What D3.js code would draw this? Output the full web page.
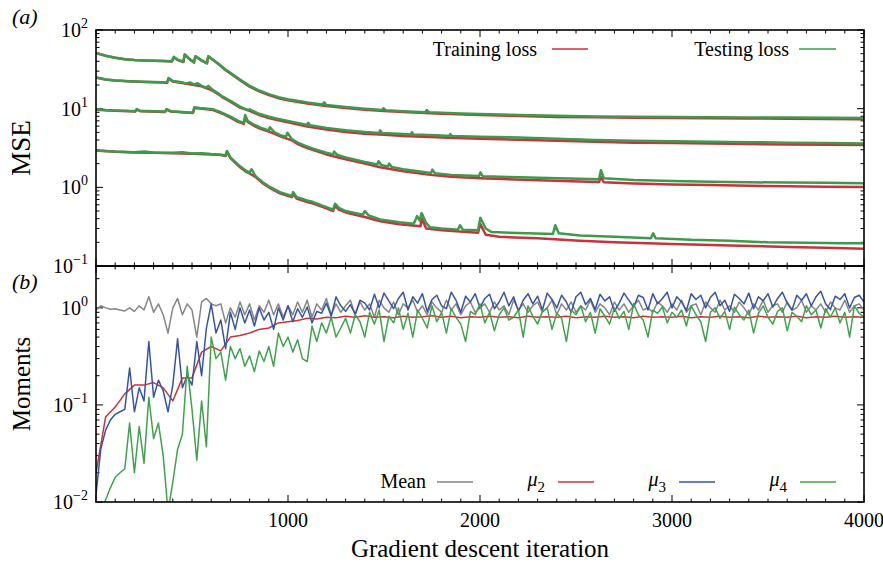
<!DOCTYPE html>
<html><head><meta charset="utf-8">
<script src="https://cdn.jsdelivr.net/npm/d3@7"></script>
<style>
body{margin:0;background:#fff;}
text{font-family:"Liberation Serif","Times New Roman",serif;fill:#000;}
</style></head><body>
<svg id="chart" width="883" height="564"></svg>
<script>
// ---- panel (a): loss curves, [iteration, MSE] ----
var test1 = [[0,51],[50,47],[100,44.5],[150,42.5],[200,41.5],[250,41],[300,40.6],[350,40.3],[395,40],[405,45.5],[425,42],[455,39.5],[462,49],[485,43.5],[510,39],[518,46.5],[545,42],[578,38],[585,46.5],[610,42],[640,37],[670,32],[700,28.5],[750,23.5],[800,19.5],[850,17],[900,15.3],[950,14],[1000,13.2],[1100,12],[1180,11.3],[1188,12],[1200,11.1],[1300,10.5],[1400,10],[1490,9.6],[1497,10.1],[1510,9.55],[1600,9.3],[1715,9.0],[1722,9.6],[1735,9.0],[1800,8.85],[1900,8.7],[2000,8.55],[2200,8.3],[2400,8.1],[2600,7.98],[2800,7.9],[3000,7.85],[3200,7.8],[3400,7.75],[3600,7.7],[3800,7.65],[4000,7.6]];
var train1 = [[0,51],[50,47],[100,44.5],[150,42.5],[200,41.5],[250,41],[300,40.6],[350,40.3],[395,39.8],[405,45],[425,41.5],[455,39.2],[462,48.5],[485,43],[510,38.5],[518,46],[545,41.5],[578,37.5],[585,46],[610,41.5],[640,36.5],[670,31.5],[700,28],[750,23],[800,19],[850,16.6],[900,14.9],[950,13.6],[1000,12.8],[1100,11.6],[1200,10.8],[1300,10.2],[1400,9.7],[1500,9.35],[1600,9.05],[1800,8.6],[2000,8.3],[2200,8.05],[2400,7.85],[2600,7.75],[2800,7.65],[3000,7.6],[3200,7.55],[3400,7.5],[3600,7.45],[3800,7.4],[4000,7.35]];

var test2 = [[0,25],[50,23.5],[100,22.8],[150,22.4],[200,22.2],[250,22],[300,21.8],[350,21.6],[370,21.4],[378,24.6],[400,22.5],[430,22],[450,21.5],[470,20.8],[490,21.6],[510,20.3],[530,21],[550,19.5],[575,18.5],[585,19.5],[610,17.2],[640,15.5],[660,14.2],[700,12.6],[750,10.6],[790,9.6],[800,9.8],[850,8.6],[900,7.9],[950,7.4],[1000,7.0],[1050,6.6],[1100,6.2],[1105,6.6],[1115,6.15],[1200,5.7],[1300,5.3],[1400,5.05],[1475,4.9],[1480,5.3],[1490,4.9],[1600,4.75],[1640,4.7],[1645,5.0],[1655,4.68],[1700,4.65],[1800,4.55],[1840,4.5],[1845,4.75],[1855,4.48],[1900,4.45],[2000,4.4],[2200,4.3],[2400,4.15],[2600,4.0],[2800,3.9],[3000,3.85],[3200,3.8],[3400,3.75],[3600,3.7],[3800,3.65],[4000,3.6]];
var train2 = [[0,25],[50,23.5],[100,22.8],[150,22.4],[200,22.1],[250,21.9],[300,21.7],[350,21.5],[370,21.2],[378,24],[400,22.2],[450,21.2],[510,20],[550,19.2],[575,18.2],[610,16.8],[640,15.1],[660,13.9],[700,12.3],[750,10.3],[800,9.4],[850,8.3],[900,7.6],[950,7.1],[1000,6.7],[1100,5.95],[1200,5.45],[1300,5.05],[1400,4.8],[1500,4.65],[1600,4.5],[1800,4.3],[2000,4.15],[2200,4.02],[2400,3.9],[2600,3.8],[2800,3.7],[3000,3.65],[3200,3.6],[3400,3.55],[3600,3.5],[3800,3.47],[4000,3.45]];

var test3 = [[0,9.8],[50,9.6],[100,9.5],[150,9.4],[205,9.3],[212,9.9],[230,9.4],[300,9.3],[360,9.2],[367,9.9],[390,9.3],[450,9.1],[505,8.9],[512,10.4],[540,10.2],[580,10.0],[610,9.8],[640,9.2],[670,8.6],[700,7.9],[740,7.0],[770,6.6],[777,8.3],[790,7.0],[820,6.3],[860,5.7],[900,5.3],[906,5.8],[930,5.0],[960,4.6],[990,4.4],[997,4.95],[1020,4.1],[1050,3.7],[1100,3.3],[1130,3.1],[1200,2.75],[1235,2.62],[1240,2.85],[1255,2.6],[1300,2.4],[1400,2.1],[1465,1.95],[1472,2.15],[1485,1.92],[1520,1.84],[1527,2.0],[1540,1.82],[1600,1.7],[1745,1.52],[1752,1.68],[1765,1.51],[1850,1.44],[1995,1.39],[2002,1.55],[2015,1.38],[2150,1.35],[2260,1.33],[2400,1.3],[2520,1.29],[2620,1.27],[2630,1.65],[2645,1.3],[2800,1.24],[3000,1.2],[3200,1.18],[3400,1.16],[3600,1.15],[3800,1.14],[4000,1.13]];
var train3 = [[0,9.7],[100,9.4],[205,9.2],[212,9.7],[230,9.3],[360,9.1],[367,9.7],[390,9.2],[505,8.8],[512,10.2],[580,9.8],[610,9.6],[640,9.0],[670,8.4],[700,7.7],[740,6.8],[770,6.4],[777,7.9],[790,6.8],[820,6.1],[860,5.5],[900,5.1],[930,4.8],[960,4.45],[1020,3.95],[1050,3.55],[1100,3.15],[1200,2.62],[1300,2.28],[1400,2.0],[1480,1.8],[1600,1.6],[1740,1.44],[1850,1.36],[2000,1.3],[2260,1.24],[2520,1.19],[2620,1.17],[2630,1.35],[2645,1.16],[2800,1.12],[3000,1.09],[3200,1.07],[3400,1.05],[3600,1.03],[3800,1.02],[4000,1.01]];

var test4 = [[0,2.95],[100,2.85],[200,2.8],[250,2.85],[300,2.78],[400,2.75],[450,2.8],[500,2.7],[550,2.72],[600,2.65],[650,2.6],[675,2.55],[682,2.9],[700,2.4],[750,1.85],[785,1.6],[800,1.55],[810,1.7],[830,1.4],[870,1.15],[900,1.03],[958,0.87],[1020,0.78],[1027,0.87],[1045,0.75],[1100,0.68],[1131,0.65],[1200,0.56],[1235,0.52],[1245,0.62],[1265,0.55],[1300,0.5],[1390,0.45],[1400,0.5],[1420,0.44],[1480,0.39],[1580,0.36],[1655,0.345],[1672,0.43],[1685,0.38],[1696,0.47],[1720,0.35],[1740,0.31],[1800,0.3],[1885,0.29],[1896,0.33],[1910,0.29],[1990,0.285],[2002,0.41],[2030,0.3],[2060,0.27],[2200,0.262],[2380,0.255],[2392,0.33],[2410,0.26],[2520,0.245],[2700,0.235],[2890,0.225],[2902,0.26],[2915,0.225],[3100,0.215],[3300,0.21],[3500,0.2],[3700,0.198],[3900,0.195],[4000,0.195]];
var train4 = [[0,2.93],[100,2.83],[200,2.78],[300,2.75],[400,2.72],[500,2.67],[600,2.62],[650,2.57],[675,2.5],[682,2.8],[700,2.35],[750,1.8],[785,1.56],[800,1.5],[830,1.36],[870,1.12],[900,1.0],[958,0.84],[1020,0.75],[1027,0.82],[1045,0.72],[1100,0.65],[1131,0.62],[1200,0.54],[1235,0.5],[1245,0.58],[1265,0.52],[1300,0.48],[1400,0.42],[1480,0.37],[1580,0.34],[1690,0.32],[1696,0.4],[1720,0.3],[1800,0.285],[1990,0.265],[2002,0.34],[2030,0.25],[2100,0.235],[2300,0.225],[2520,0.21],[2700,0.2],[3000,0.19],[3300,0.182],[3600,0.175],[3800,0.17],[4000,0.166]];

var trainSeries = [train1, train2, train3, train4];
var testSeries = [test1, test2, test3, test4];

// ---- panel (b): moments, sampled every momentStep iterations ----
var momentStep = 25;
var meanVals = [
0.95,1.05,1.0,0.97,0.98,0.95,0.93,1.0,0.92,1.05,
0.95,1.3,0.9,1.1,0.85,0.55,1.0,1.25,0.85,1.1,
0.95,0.5,1.15,1.25,1.1,1.05,1.1,0.7,1.0,0.8,
1.15,0.85,1.1,0.75,1.05,0.9,1.2,0.85,1.1,0.8,
1.05,
0.85,1.15,0.9,1.2,0.8,1.1,0.95,1.25,0.85,1.1,
0.9,1.05,1.2,0.85,1.15,0.95,1.1,0.8,1.2,1.0,
0.9,1.15,0.85,1.1,1.0,1.2,0.9,1.05,0.85,1.15,
1.0,0.9,1.2,0.95,1.1,0.85,1.05,1.15,0.9,1.0,
1.1,0.9,1.15,0.95,1.05,0.85,1.2,0.95,1.1,0.9,
1.05,1.15,0.9,1.0,1.2,0.85,1.1,0.95,1.15,0.9,
1.05,0.95,1.2,0.9,1.1,1.0,0.85,1.15,0.95,1.1,
0.9,1.05,1.2,0.95,1.0,0.9,1.15,1.05,0.9,1.1,
0.95,1.2,0.9,1.05,1.1,0.85,1.15,1.0,0.9,1.2,
0.95,1.05,0.9,1.15,1.0,0.85,1.1,0.95,1.2,0.9,
1.05,1.1,0.9,1.15,0.95,1.0,1.2,0.9,1.05,0.95,
1.1,0.9,1.15,1.0,0.95,1.2,0.9,1.05,1.1,0.95];

var mu3Vals = [
0.012,0.035,0.055,0.07,0.08,0.085,0.09,0.24,0.085,0.15,
0.11,0.45,0.12,0.18,0.14,0.085,0.16,0.48,0.15,0.2,
0.16,0.45,0.2,0.62,1.1,0.55,0.75,0.38,0.9,0.6,
1.0,0.7,0.95,0.65,1.0,0.75,0.9,0.6,1.0,0.75,
1.05,
0.72,0.98,0.8,1.02,0.7,0.92,0.88,1.12,0.82,1.3,
1.05,0.92,1.08,0.86,1.2,1.12,0.95,1.38,1.0,1.42,
1.18,0.98,1.25,1.45,0.95,1.3,1.12,1.4,0.92,1.22,
1.35,1.05,0.98,1.45,1.2,0.9,1.32,1.15,1.4,1.0,
1.25,1.38,0.98,1.15,1.45,1.05,1.3,0.92,1.2,1.4,
1.1,1.32,0.95,1.42,1.22,1.0,1.35,1.15,0.9,1.3,
1.45,1.08,1.25,0.96,1.38,1.18,1.3,0.92,1.12,1.42,
1.2,1.02,1.35,1.28,0.95,1.4,1.1,1.25,1.45,1.0,
1.3,1.15,0.94,1.4,1.22,1.35,1.0,1.28,1.45,1.05,
1.2,0.92,1.38,1.25,1.1,1.42,0.98,1.3,1.18,1.4,
1.02,1.25,1.45,1.12,0.95,1.35,1.2,1.4,1.05,1.3,
1.48,1.1,0.96,1.32,1.22,1.4,1.0,1.28,1.35,1.15];

var mu4Vals = [
0.006,0.008,0.0105,0.014,0.018,0.02,0.022,0.065,0.02,0.06,
0.025,0.12,0.045,0.065,0.03,0.008,0.016,0.035,0.05,0.25,
0.09,0.027,0.11,0.037,0.5,0.3,0.35,0.18,0.4,0.3,
0.38,0.25,0.32,0.22,0.36,0.28,0.4,0.25,0.55,0.4,
0.5,
0.35,0.47,0.3,0.28,0.65,0.45,0.7,0.55,0.8,0.5,
0.62,0.78,0.55,0.85,0.72,0.5,0.9,0.68,0.95,0.45,
0.82,0.7,1.0,0.6,0.88,0.5,0.95,0.78,0.62,1.05,
0.72,0.9,0.55,0.98,0.8,0.68,0.45,0.92,0.85,1.1,
0.7,0.9,0.58,0.85,1.0,0.75,0.8,0.95,0.5,1.05,
0.82,0.68,0.92,1.0,0.6,0.88,0.78,0.45,0.95,0.85,
1.05,0.72,0.9,0.55,0.98,0.82,0.68,1.0,0.78,0.92,
0.6,1.1,0.85,0.75,0.5,0.95,0.88,1.02,0.7,0.9,
0.8,0.95,0.65,1.05,0.85,0.72,0.45,0.9,1.0,0.78,
0.92,0.6,1.02,0.85,0.75,0.95,0.55,0.88,1.05,0.8,
0.68,0.92,1.0,0.58,0.9,0.82,0.72,1.05,0.85,0.95,
0.62,0.98,0.8,1.0,0.7,0.9,0.5,1.05,0.88,0.8];

var mu2Step = 50;
var mu2Vals = [
0.02,0.075,0.095,0.13,0.16,0.16,0.17,0.15,0.11,0.19,
0.19,0.35,0.4,0.36,0.5,0.52,0.55,0.6,0.62,0.7,
0.72,0.74,0.78,0.77,0.8,0.79,0.82,0.8,0.83,0.8,
0.81,0.79,0.82,0.8,0.81,0.83,0.8,0.82,0.79,0.81,
0.8,0.82,0.8,0.81,0.79,0.82,0.8,0.81,0.8,0.82,
0.79,0.81,0.8,0.82,0.8,0.81,0.79,0.82,0.8,0.81,
0.8,0.82,0.79,0.81,0.8,0.82,0.8,0.81,0.79,0.82,
0.8,0.81,0.8,0.82,0.79,0.81,0.8,0.82,0.8,0.81,
0.8];

var xMajor = [1000, 2000, 3000, 4000];
var lossDecades = [-1, 0, 1, 2];
var momentDecades = [-2, -1, 0];

var colTrain = "#c8323c", colTest = "#3c9a4a";
var colMean = "#858585", colMu2 = "#cc3338", colMu3 = "#3653a8", colMu4 = "#40a34c";

// ---- layout ----
var svg = d3.select("#chart");
var left = 96, right = 864, topA = 30, midY = 266, botB = 502;

var x = d3.scaleLinear().domain([0, 4000]).range([left, right]);
var yA = d3.scaleLog().domain([0.1, 100]).range([midY, topA]);
var yB = d3.scaleLog().domain([0.01, 2.7]).range([botB, midY]);

var defs = svg.append("defs");
defs.append("clipPath").attr("id", "clipA").append("rect")
    .attr("x", left).attr("y", topA).attr("width", right - left).attr("height", midY - topA);
defs.append("clipPath").attr("id", "clipB").append("rect")
    .attr("x", left).attr("y", midY).attr("width", right - left).attr("height", botB - midY);

function logMinor(lo, hi) {
    var out = [];
    for (var d = lo; d < hi; d++)
        for (var k = 2; k <= 9; k++) out.push(k * Math.pow(10, d));
    return out;
}

var xMinor = d3.range(0, 4001, 100).filter(function(v) { return v % 1000 != 0; });

function drawTicks(y, y0, y1, minorY, majorY) {
    var g = svg.append("g").attr("class", "ticks").attr("stroke", "#000").attr("stroke-width", 1);
    // x ticks, bottom (pointing up) and top (pointing down)
    [[y1, -1], [y0, 1]].forEach(function(p) {
        g.selectAll(null).data(xMinor).enter().append("line")
            .attr("x1", x).attr("x2", x).attr("y1", p[0]).attr("y2", p[0] + p[1] * 3.5);
        g.selectAll(null).data([0].concat(xMajor)).enter().append("line")
            .attr("x1", x).attr("x2", x).attr("y1", p[0]).attr("y2", p[0] + p[1] * 7);
    });
    // y ticks, left (pointing right) and right (pointing left)
    [[left, 1], [right, -1]].forEach(function(p) {
        g.selectAll(null).data(minorY).enter().append("line")
            .attr("y1", y).attr("y2", y).attr("x1", p[0]).attr("x2", p[0] + p[1] * 3.5);
        g.selectAll(null).data(majorY).enter().append("line")
            .attr("y1", y).attr("y2", y).attr("x1", p[0]).attr("x2", p[0] + p[1] * 7);
    });
}

drawTicks(yA, topA, midY, logMinor(-1, 2), [0.1, 1, 10, 100]);
drawTicks(yB, midY, botB, logMinor(-2, 1).filter(function(v) { return v <= 2.7; }), [0.01, 0.1, 1]);

// ---- lines ----
var lineA = d3.line().x(function(d) { return x(d[0]); }).y(function(d) { return yA(d[1]); });
var gA = svg.append("g").attr("clip-path", "url(#clipA)");
gA.selectAll(".train").data(trainSeries).enter().append("path")
    .attr("class", "train").attr("d", lineA)
    .attr("fill", "none").attr("stroke", colTrain).attr("stroke-width", 2.5).attr("stroke-linejoin", "round");
gA.selectAll(".test").data(testSeries).enter().append("path")
    .attr("class", "test").attr("d", lineA)
    .attr("fill", "none").attr("stroke", colTest).attr("stroke-width", 2.5).attr("stroke-linejoin", "round");

function stepped(vals, step) {
    return vals.map(function(v, i) { return [i * step, v]; });
}
var lineB = d3.line().x(function(d) { return x(d[0]); }).y(function(d) { return yB(d[1]); });
var gB = svg.append("g").attr("clip-path", "url(#clipB)");
[[stepped(meanVals, momentStep), colMean],
 [stepped(mu2Vals, mu2Step), colMu2],
 [stepped(mu3Vals, momentStep), colMu3],
 [stepped(mu4Vals, momentStep), colMu4]].forEach(function(s) {
    gB.append("path").datum(s[0]).attr("d", lineB)
        .attr("fill", "none").attr("stroke", s[1]).attr("stroke-width", 1.5).attr("stroke-linejoin", "round");
});

// ---- frames ----
svg.append("rect").attr("x", left).attr("y", topA).attr("width", right - left).attr("height", midY - topA)
    .attr("fill", "none").attr("stroke", "#000").attr("stroke-width", 1.6);
svg.append("rect").attr("x", left).attr("y", midY).attr("width", right - left).attr("height", botB - midY)
    .attr("fill", "none").attr("stroke", "#000").attr("stroke-width", 1.6);

// ---- tick labels ----
function powLabel(y, decades) {
    var t = svg.selectAll(null).data(decades).enter().append("text")
        .attr("x", left - 8).attr("y", function(d) { return y(Math.pow(10, d)) + 7; })
        .attr("text-anchor", "end").style("font-size", "20px");
    t.append("tspan").text("10");
    t.append("tspan").attr("dy", -9).style("font-size", "14px")
        .text(function(d) { return d < 0 ? "\u2212" + (-d) : d; });
}
powLabel(yA, lossDecades);
powLabel(yB, momentDecades);

svg.selectAll(null).data(xMajor).enter().append("text")
    .attr("x", x).attr("y", 527).attr("text-anchor", "middle").style("font-size", "20px")
    .text(function(d) { return d; });

// ---- axis titles ----
svg.append("text").attr("transform", "translate(30," + ((topA + midY) / 2) + ") rotate(-90)")
    .attr("text-anchor", "middle").style("font-size", "27px").text("MSE");
svg.append("text").attr("transform", "translate(30," + ((midY + botB) / 2) + ") rotate(-90)")
    .attr("text-anchor", "middle").style("font-size", "25px").text("Moments");
svg.append("text").attr("x", (left + right) / 2).attr("y", 557)
    .attr("text-anchor", "middle").style("font-size", "25px").text("Gradient descent iteration");

svg.append("text").attr("x", 12).attr("y", 24).style("font-size", "22px").style("font-style", "italic").text("(a)");
svg.append("text").attr("x", 12).attr("y", 289).style("font-size", "22px").style("font-style", "italic").text("(b)");

// ---- legends ----
function legendItem(label, sub, tx, ty, lx1, lx2, ly, col) {
    var t = svg.append("text").attr("x", tx).attr("y", ty).attr("text-anchor", "end").style("font-size", "20px");
    if (sub) {
        t.append("tspan").style("font-style", "italic").text(label);
        t.append("tspan").attr("dy", 6).style("font-size", "15px").text(sub);
    } else {
        t.text(label);
    }
    svg.append("line").attr("x1", lx1).attr("x2", lx2).attr("y1", ly).attr("y2", ly)
        .attr("stroke", col).attr("stroke-width", 1.5);
}
legendItem("Training loss", null, 537, 56, 552, 588, 49, colTrain);
legendItem("Testing loss", null, 789, 56, 799, 836, 49, colTest);
legendItem("Mean", null, 426, 488, 437, 473, 482, colMean);
legendItem("\u03bc", "2", 545, 486, 558, 594, 482, colMu2);
legendItem("\u03bc", "3", 666, 486, 679, 715, 482, colMu3);
legendItem("\u03bc", "4", 787, 486, 800, 836, 482, colMu4);
</script>
</body></html>
